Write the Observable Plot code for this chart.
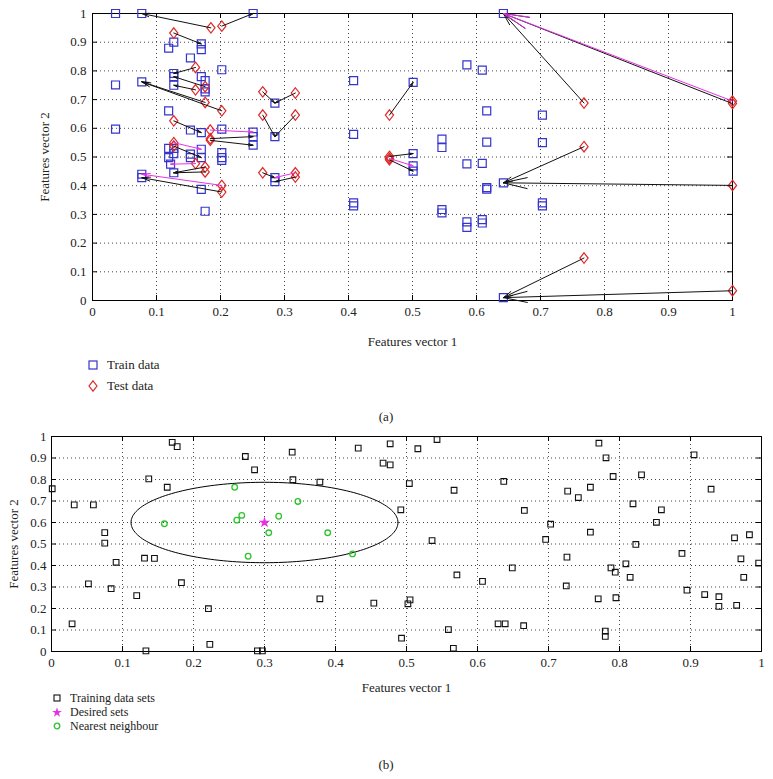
<!DOCTYPE html>
<html><head><meta charset="utf-8">
<script src="https://cdn.jsdelivr.net/npm/d3@7"></script>
<script src="https://cdn.jsdelivr.net/npm/@observablehq/plot@0.6"></script>
<style>
body{margin:0;background:#fff;font-family:"Liberation Serif","DejaVu Serif",serif;}
#root{position:relative;width:773px;height:779px;overflow:hidden;background:#fff;}
.leg{position:absolute;font-size:13px;line-height:12px;color:#222;display:flex;align-items:center;height:12px;white-space:nowrap;}
.leg span{line-height:12px;}
.legb{font-size:12px;}
.cap{position:absolute;font-size:13px;line-height:14px;color:#222;width:40px;text-align:center;}
</style></head><body><div id="root"></div>
<script>
// ---------- shared ticks ----------
const ticks = [0, 0.1, 0.2, 0.3, 0.4, 0.5, 0.6, 0.7, 0.8, 0.9, 1];
const tickLabels = ["0", "0.1", "0.2", "0.3", "0.4", "0.5", "0.6", "0.7", "0.8", "0.9", "1"];
const axisTitleX = "Features vector 1";
const axisTitleY = "Features vector 2";

// ---------- panel (a) ----------
const trainA = [
  [0.036,1.0],[0.077,1.0],[0.251,1.0],[0.642,1.0],
  [0.127,0.90],[0.119,0.879],[0.170,0.894],[0.170,0.874],[0.153,0.845],[0.202,0.804],
  [0.127,0.791],[0.127,0.78],[0.127,0.75],[0.170,0.78],[0.176,0.766],[0.176,0.737],[0.176,0.727],
  [0.036,0.751],[0.077,0.762],[0.119,0.661],[0.036,0.597],[0.153,0.594],[0.170,0.585],[0.202,0.597],
  [0.251,0.587],[0.251,0.571],[0.251,0.541],[0.285,0.688],[0.285,0.571],
  [0.119,0.53],[0.127,0.53],[0.127,0.512],[0.153,0.51],[0.153,0.498],[0.170,0.527],[0.170,0.498],
  [0.202,0.515],[0.202,0.498],[0.202,0.488],[0.119,0.498],[0.122,0.475],[0.127,0.445],
  [0.077,0.44],[0.077,0.428],[0.170,0.387],[0.176,0.311],[0.285,0.428],[0.285,0.414],
  [0.408,0.766],[0.408,0.579],[0.408,0.34],[0.408,0.33],
  [0.501,0.760],[0.501,0.512],[0.501,0.469],[0.501,0.451],
  [0.546,0.562],[0.546,0.533],[0.546,0.317],[0.546,0.305],
  [0.585,0.821],[0.609,0.803],[0.616,0.661],[0.703,0.646],[0.616,0.552],[0.703,0.55],
  [0.585,0.476],[0.609,0.478],[0.642,0.41],[0.616,0.393],[0.616,0.388],[0.703,0.34],[0.703,0.33],
  [0.585,0.274],[0.585,0.255],[0.609,0.282],[0.609,0.27],[0.642,0.01]
];
const testA = [
  [0.185,0.95],[0.202,0.956],[0.127,0.932],[0.161,0.812],[0.176,0.745],[0.161,0.734],[0.176,0.69],
  [0.202,0.661],[0.266,0.727],[0.317,0.723],[0.266,0.646],[0.317,0.646],[0.127,0.626],[0.184,0.594],
  [0.184,0.564],[0.184,0.558],[0.127,0.55],[0.127,0.538],[0.161,0.477],[0.176,0.465],[0.176,0.448],
  [0.202,0.401],[0.202,0.378],[0.266,0.445],[0.317,0.445],[0.317,0.43],[0.464,0.646],[0.464,0.502],
  [0.464,0.495],[0.464,0.49],[0.768,0.688],[1.0,0.686],[1.0,0.695],[0.768,0.536],[1.0,0.401],
  [0.768,0.148],[1.0,0.034]
];
// arrows: [test x, test y, train x, train y]
const arrowsBlack = [
  [0.185,0.95,0.077,1.0],[0.202,0.956,0.251,1.0],[0.127,0.932,0.170,0.894],[0.161,0.812,0.127,0.791],
  [0.176,0.745,0.127,0.78],[0.161,0.734,0.127,0.75],[0.176,0.69,0.077,0.762],[0.202,0.661,0.077,0.762],
  [0.266,0.727,0.285,0.688],[0.317,0.723,0.285,0.688],[0.266,0.646,0.285,0.571],[0.317,0.646,0.285,0.571],
  [0.127,0.626,0.170,0.585],[0.184,0.564,0.251,0.571],[0.184,0.558,0.251,0.541],[0.127,0.538,0.170,0.498],
  [0.176,0.465,0.127,0.445],[0.176,0.448,0.127,0.445],[0.202,0.378,0.077,0.428],[0.266,0.445,0.285,0.428],
  [0.317,0.43,0.285,0.414],[0.464,0.646,0.501,0.76],[0.464,0.502,0.501,0.512],[0.464,0.49,0.501,0.451],
  [0.768,0.688,0.642,1.0],[1.0,0.686,0.642,1.0],[0.768,0.536,0.642,0.41],[1.0,0.401,0.642,0.41],
  [0.768,0.148,0.642,0.01],[1.0,0.034,0.642,0.01]
];
const arrowsMagenta = [
  [0.184,0.594,0.251,0.587],[0.127,0.55,0.170,0.527],[0.161,0.477,0.122,0.475],[0.202,0.401,0.077,0.44],
  [0.317,0.445,0.285,0.428],[0.464,0.495,0.501,0.469],[1.0,0.695,0.642,1.0]
];
const legendA = ["Train data", "Test data"];

// ---------- panel (b) ----------
const trainB = [
  [0.001,0.757],[0.032,0.682],[0.059,0.682],[0.075,0.553],[0.075,0.504],[0.091,0.415],[0.131,0.434],
  [0.145,0.433],[0.137,0.803],[0.163,0.764],[0.170,0.973],[0.177,0.953],[0.273,0.907],[0.286,0.845],
  [0.029,0.129],[0.052,0.315],[0.084,0.292],[0.120,0.260],[0.133,0.003],[0.183,0.320],[0.221,0.199],
  [0.223,0.033],[0.290,0.003],[0.297,0.003],
  [0.339,0.927],[0.340,0.799],[0.378,0.788],[0.432,0.946],[0.467,0.876],[0.477,0.868],[0.477,0.966],
  [0.516,0.943],[0.543,0.986],[0.504,0.781],[0.492,0.659],[0.567,0.750],[0.536,0.516],[0.637,0.791],
  [0.571,0.356],[0.378,0.245],[0.454,0.225],[0.502,0.222],[0.505,0.240],[0.493,0.062],[0.559,0.102],
  [0.566,0.015],[0.607,0.326],[0.629,0.129],[0.639,0.129],
  [0.771,0.969],[0.781,0.901],[0.791,0.814],[0.831,0.822],[0.905,0.915],[0.929,0.755],[0.727,0.746],
  [0.759,0.764],[0.742,0.716],[0.666,0.656],[0.703,0.592],[0.696,0.521],[0.759,0.555],[0.819,0.687],
  [0.859,0.659],[0.852,0.601],[0.823,0.498],[0.888,0.456],[0.726,0.439],[0.809,0.408],[0.788,0.389],
  [0.794,0.369],[0.962,0.529],[0.983,0.543],[0.971,0.431],[0.996,0.411],[0.649,0.389],
  [0.725,0.305],[0.770,0.245],[0.795,0.250],[0.815,0.345],[0.780,0.095],[0.780,0.070],[0.665,0.120],
  [0.895,0.285],[0.920,0.265],[0.940,0.255],[0.940,0.210],[0.965,0.215],[0.975,0.345]
];
const nearestB = [
  [0.159,0.594],[0.258,0.764],[0.261,0.611],[0.268,0.633],[0.277,0.443],[0.347,0.698],
  [0.320,0.629],[0.306,0.552],[0.389,0.552],[0.424,0.454]
];
const desiredB = [[0.3,0.6]];
const neighbourhood = {cx: 0.3, cy: 0.6, rx: 0.188, ry: 0.187};
const legendB = ["Training data sets", "Desired sets", "Nearest neighbour"];

// ---------- helpers ----------
const fmt = d => tickLabels[ticks.findIndex(t => Math.abs(t - d) < 1e-9)];
const diamondSym = {draw(ctx, size) {
  const r = Math.sqrt(size / Math.PI); const w = r * 0.82, h = r * 1.05;
  ctx.moveTo(0, -h); ctx.lineTo(w, 0); ctx.lineTo(0, h); ctx.lineTo(-w, 0); ctx.closePath();
}};
const gridStyle = {stroke: "#333", strokeDasharray: "1,3", strokeWidth: 1, strokeOpacity: 0.9};

function frameTicks(plotW, plotH) {
  const t = 5;
  return [
    Plot.tickX(ticks, {x: d => d, insetTop: plotH - t, stroke: "#000"}),
    Plot.tickX(ticks, {x: d => d, insetBottom: plotH - t, stroke: "#000"}),
    Plot.tickY(ticks, {y: d => d, insetRight: plotW - t, stroke: "#000"}),
    Plot.tickY(ticks, {y: d => d, insetLeft: plotW - t, stroke: "#000"})
  ];
}

const root = document.getElementById("root");

// ---------- Plot (a) ----------
const A = {W: 773, H: 350, mt: 13, mb: 50, ml: 92, mr: 41};
const aw = A.W - A.ml - A.mr, ah = A.H - A.mt - A.mb;
function arrowMarks(list, color) {
  return list.map(a => {
    const L = Math.hypot((a[2] - a[0]) * aw, (a[3] - a[1]) * ah);
    return Plot.arrow([a], {x1: d => d[0], y1: d => d[1], x2: d => d[2], y2: d => d[3],
      stroke: color, strokeWidth: 1, headLength: Math.max(6, 0.16 * L), headAngle: 26});
  });
}
const plotA = Plot.plot({
  width: A.W, height: A.H, marginTop: A.mt, marginBottom: A.mb, marginLeft: A.ml, marginRight: A.mr,
  style: {fontFamily: "Liberation Serif, serif", fontSize: "13px", color: "#222", background: "transparent"},
  x: {domain: [0, 1], ticks: ticks, tickFormat: fmt, tickSize: 0, tickPadding: 6,
      label: axisTitleX, labelAnchor: "center", labelOffset: 45, labelArrow: "none"},
  y: {domain: [0, 1], ticks: ticks, tickFormat: fmt, tickSize: 0, tickPadding: 6,
      label: axisTitleY, labelAnchor: "center", labelOffset: 53, labelArrow: "none"},
  marks: [
    Plot.ruleX(ticks.slice(1, -1), {x: d => d, ...gridStyle}),
    Plot.ruleY(ticks.slice(1, -1), {y: d => d, ...gridStyle}),
    Plot.frame({stroke: "#000", strokeWidth: 1}),
    frameTicks(aw, ah),
    Plot.dot(trainA, {x: d => d[0], y: d => d[1], symbol: "square", r: 4.5, stroke: "#3535cc", strokeWidth: 1.2, fill: "none"}),
    Plot.dot(testA, {x: d => d[0], y: d => d[1], symbol: diamondSym, r: 5, stroke: "#e02828", strokeWidth: 1.2, fill: "none"}),
    arrowMarks(arrowsBlack, "#111"),
    arrowMarks(arrowsMagenta, "#e633e6")
  ]
});
plotA.style.position = "absolute"; plotA.style.left = "0px"; plotA.style.top = "0px";
root.appendChild(plotA);

// ---------- Plot (b) ----------
const B = {W: 773, H: 270, mt: 11, mb: 44, ml: 51, mr: 12, top: 425};
const bw = B.W - B.ml - B.mr, bh = B.H - B.mt - B.mb;
const ellipse = d3.range(0, 361, 2).map(a => {
  const t = a * Math.PI / 180;
  return [neighbourhood.cx + neighbourhood.rx * Math.cos(t), neighbourhood.cy + neighbourhood.ry * Math.sin(t)];
});
const plotB = Plot.plot({
  width: B.W, height: B.H, marginTop: B.mt, marginBottom: B.mb, marginLeft: B.ml, marginRight: B.mr,
  style: {fontFamily: "Liberation Serif, serif", fontSize: "13px", color: "#222", background: "transparent"},
  x: {domain: [0, 1], ticks: ticks, tickFormat: fmt, tickSize: 0, tickPadding: 6,
      label: axisTitleX, labelAnchor: "center", labelOffset: 40, labelArrow: "none"},
  y: {domain: [0, 1], ticks: ticks, tickFormat: fmt, tickSize: 0, tickPadding: 5,
      label: axisTitleY, labelAnchor: "center", labelOffset: 43, labelArrow: "none"},
  marks: [
    Plot.ruleX(ticks.slice(1, -1), {x: d => d, ...gridStyle}),
    Plot.ruleY(ticks.slice(1, -1), {y: d => d, ...gridStyle}),
    Plot.frame({stroke: "#000", strokeWidth: 1}),
    frameTicks(bw, bh),
    Plot.line(ellipse, {x: d => d[0], y: d => d[1], stroke: "#000", strokeWidth: 1}),
    Plot.dot(trainB, {x: d => d[0], y: d => d[1], symbol: "square", r: 3.2, stroke: "#111", strokeWidth: 1.1, fill: "none"}),
    Plot.dot(nearestB, {x: d => d[0], y: d => d[1], symbol: "circle", r: 2.8, stroke: "#2fc42f", strokeWidth: 1.3, fill: "none"}),
    Plot.dot(desiredB, {x: d => d[0], y: d => d[1], symbol: "star", r: 3.6, fill: "#e633e6", stroke: "none"})
  ]
});
plotB.style.position = "absolute"; plotB.style.left = "0px"; plotB.style.top = B.top + "px";
root.appendChild(plotB);

// ---------- legends & captions ----------
function legendRow(left, top, iconSvg, text, cls) {
  const d = document.createElement("div");
  d.className = "leg" + (cls ? " " + cls : ""); d.style.left = left + "px"; d.style.top = top + "px";
  d.innerHTML = iconSvg + `<span style="margin-left:8px">${text}</span>`;
  root.appendChild(d);
}
legendRow(87, 359, `<svg width="12" height="12"><rect x="2" y="2" width="8" height="8" fill="none" stroke="#3535cc" stroke-width="1.2"/></svg>`, legendA[0]);
legendRow(87, 380, `<svg width="12" height="12"><path d="M6,0.8 L10,6 L6,11.2 L2,6 Z" fill="none" stroke="#e02828" stroke-width="1.2"/></svg>`, legendA[1]);
legendRow(52, 692, `<svg width="10" height="10"><rect x="2" y="2" width="6" height="6" fill="none" stroke="#111" stroke-width="1.1"/></svg>`, legendB[0], "legb");
legendRow(52, 706, `<svg width="10" height="10"><path d="${d3.symbol(d3.symbolStar, 30)()}" transform="translate(5,5.5)" fill="#e633e6"/></svg>`, legendB[1], "legb");
legendRow(52, 720, `<svg width="10" height="10"><circle cx="5" cy="5" r="2.8" fill="none" stroke="#2fc42f" stroke-width="1.3"/></svg>`, legendB[2], "legb");

function caption(text, top) {
  const c = document.createElement("div");
  c.className = "cap"; c.style.left = "366px"; c.style.top = top + "px"; c.textContent = text;
  root.appendChild(c);
}
caption("(a)", 410);
caption("(b)", 758);
</script>
</body></html>
